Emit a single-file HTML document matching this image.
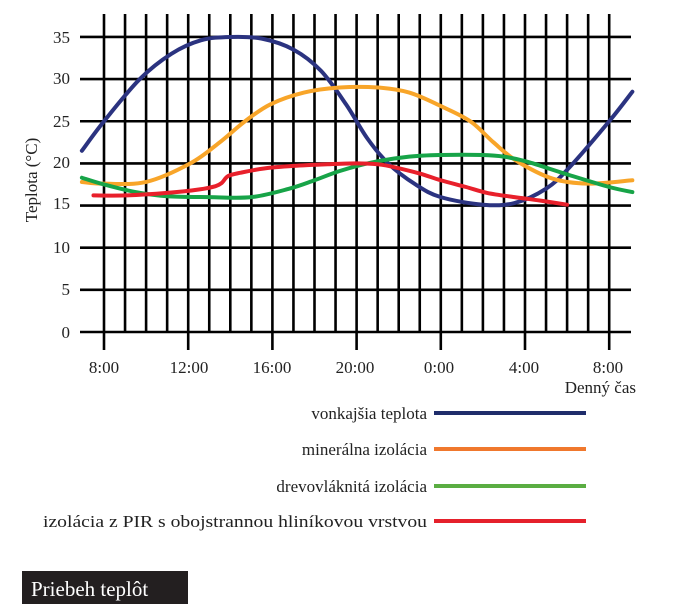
<!DOCTYPE html>
<html><head><meta charset="utf-8"><style>
html,body{margin:0;padding:0;background:#fff;}
svg{display:block;font-family:"Liberation Serif",serif;}
</style></head><body>
<svg id="s" width="683" height="614" viewBox="0 0 683 614">
<g id="grid" stroke="#000" stroke-width="2.6"></g>
<g id="curves" fill="none" stroke-width="4" stroke-linecap="round" stroke-linejoin="round"></g>
<g font-size="17" fill="#222">
<text x="70" y="43" text-anchor="end">35</text>
<text x="70" y="84" text-anchor="end">30</text>
<text x="70" y="127" text-anchor="end">25</text>
<text x="70" y="168" text-anchor="end">20</text>
<text x="70" y="209" text-anchor="end">15</text>
<text x="70" y="253" text-anchor="end">10</text>
<text x="70" y="295" text-anchor="end">5</text>
<text x="70" y="338" text-anchor="end">0</text>
<text x="104" y="373" text-anchor="middle">8:00</text>
<text x="189" y="373" text-anchor="middle">12:00</text>
<text x="272" y="373" text-anchor="middle">16:00</text>
<text x="355" y="373" text-anchor="middle">20:00</text>
<text x="439" y="373" text-anchor="middle">0:00</text>
<text x="524" y="373" text-anchor="middle">4:00</text>
<text x="608" y="373" text-anchor="middle">8:00</text>
<text x="636" y="393" text-anchor="end">Denný čas</text>
<text transform="translate(37,180) rotate(-90)" text-anchor="middle">Teplota (°C)</text>
<text x="427" y="419" text-anchor="end">vonkajšia teplota</text>
<text x="427" y="455" text-anchor="end">minerálna izolácia</text>
<text x="427" y="492" text-anchor="end">drevovláknitá izolácia</text>
<text x="427" y="527" text-anchor="end" textLength="384" lengthAdjust="spacingAndGlyphs">izolácia z PIR s obojstrannou hliníkovou vrstvou</text>
</g>
<g stroke-width="4">
<line x1="434" y1="413" x2="586" y2="413" stroke="#1f2d6b"/>
<line x1="434" y1="449" x2="586" y2="449" stroke="#f0782d"/>
<line x1="434" y1="486" x2="586" y2="486" stroke="#5aad42"/>
<line x1="434" y1="521" x2="586" y2="521" stroke="#e5202b"/>
</g>
<rect x="22" y="571" width="166" height="33" fill="#231f20"/>
<text x="31" y="596" font-size="21" fill="#fff">Priebeh teplôt</text>
</svg>
<script>
var NS="http://www.w3.org/2000/svg";
function X(h){return 104+21.05*h;}
function Y(t){return 332-8.43*t;}
var g=document.getElementById('grid');
function ln(x1,y1,x2,y2){var l=document.createElementNS(NS,'line');l.setAttribute('x1',x1);l.setAttribute('y1',y1);l.setAttribute('x2',x2);l.setAttribute('y2',y2);g.appendChild(l);}
[0,5,10,15,20,25,30,35].forEach(function(t){ln(80,Y(t),631,Y(t));});
for(var h=0;h<=24;h++){var x=X(h);var major=(h%4==0);ln(x,14,x,major?350:Y(0));}
function path(pts,color){
 var p=pts.map(function(a){return [X(a[0]),Y(a[1])];});
 var d="M"+p[0][0]+","+p[0][1];
 for(var i=0;i<p.length-1;i++){
  var p0=p[i-1]||p[i],p1=p[i],p2=p[i+1],p3=p[i+2]||p2;
  var c1=[p1[0]+(p2[0]-p0[0])/6,p1[1]+(p2[1]-p0[1])/6];
  var c2=[p2[0]-(p3[0]-p1[0])/6,p2[1]-(p3[1]-p1[1])/6];
  d+=" C"+c1+" "+c2+" "+p2;
 }
 var e=document.createElementNS(NS,'path');e.setAttribute('d',d);e.setAttribute('stroke',color);
 document.getElementById('curves').appendChild(e);
}
path([[-1.05,21.5],[0,25],[1.7,30],[3.2,33],[4.6,34.6],[6,35],[7.5,34.8],[9,33.5],[10.3,31],[11.5,27],[12.5,23],[13.5,20],[14.8,17.5],[16,16],[18,15.1],[19.5,15.3],[21,17],[22.1,19.5],[24,25],[25.1,28.5]],'#2b3380');
path([[-1.05,17.8],[0,17.6],[2,17.8],[4.1,20],[5.5,22.5],[6.7,25],[7.9,27],[9.5,28.4],[11.2,29],[13,29],[14.5,28.4],[16,26.8],[17.4,25],[18.5,22.5],[19.6,20.3],[21.3,18.2],[23,17.6],[25.1,18]],'#f8a529');
path([[-1.05,18.3],[0,17.5],[1.5,16.6],[3,16.1],[5,16],[7,16],[8.8,17],[10,18],[11.2,19.1],[12.7,20.1],[14.5,20.8],[16,21],[18,21],[19,20.8],[20.1,20.2],[22,18.7],[24,17.2],[25.1,16.6]],'#17a448');
path([[-0.5,16.2],[1,16.2],[3,16.5],[4.5,16.9],[5.3,17.3],[5.6,17.7],[5.9,18.5],[6.5,18.9],[7.6,19.4],[9,19.7],[10.7,19.9],[12,20],[13,19.9],[13.7,19.6],[15,18.8],[16,18],[17.2,17.2],[18.2,16.5],[19.5,16],[20.7,15.6],[22,15.1]],'#e8202b');
</script>
</body></html>
